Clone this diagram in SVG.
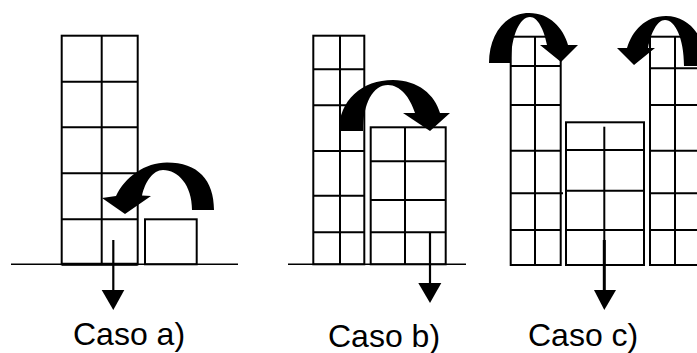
<svg xmlns="http://www.w3.org/2000/svg" width="697" height="353" viewBox="0 0 697 353">
<style>
.g{fill:none;stroke:#000;stroke-width:2}
.ground{fill:none;stroke:#000;stroke-width:1.6}
.shaft{fill:none;stroke:#000;stroke-width:2.2}
.head{fill:#000}
.curve{fill:#000;stroke:none}
.lbl{font-family:"Liberation Sans",Arial,sans-serif;font-size:32px;fill:#000}
</style>
<rect width="697" height="353" fill="#fff"/>
<g id="ground-a"><line class="ground" x1="11" y1="264.3" x2="238" y2="264.3"/></g>
<g id="ground-b"><line class="ground" x1="288" y1="264.3" x2="466" y2="264.3"/></g>
<g id="tower-a">
<rect class="g" x="61.7" y="35.7" width="76" height="228.6"/>
<line class="g" x1="101.7" y1="35.7" x2="101.7" y2="264.3"/>
<path class="g" d="M61.7 81.7H137.7M61.7 127.3H137.7M61.7 173.3H137.7M61.7 219.3H137.7"/>
<line x1="61.7" y1="264.3" x2="137.7" y2="264.3" stroke="#000" stroke-width="3"/>
</g>
<g id="block-a"><rect class="g" x="145" y="219.3" width="51.7" height="45"/></g>
<g id="tower-b1">
<rect class="g" x="313.3" y="35.7" width="51" height="228.6"/>
<line class="g" x1="340" y1="35.7" x2="340" y2="264.3"/>
<path class="g" d="M313.3 69.3H364.3M313.3 105.3H364.3M313.3 151H364.3M313.3 195.7H364.3M313.3 232.3H364.3"/>
</g>
<g id="tower-b2">
<rect class="g" x="370.7" y="127.3" width="75" height="137"/>
<line class="g" x1="405" y1="127.3" x2="405" y2="264.3"/>
<path class="g" d="M370.7 161.3H445.7M370.7 200H445.7M370.7 232.3H445.7"/>
</g>
<g id="tower-c1">
<rect class="g" x="510.7" y="36.7" width="50" height="228.3"/>
<line class="g" x1="535" y1="36.7" x2="535" y2="265"/>
<path class="g" d="M510.7 66H560.7M510.7 105H560.7M510.7 150.7H560.7M510.7 193.3H563M510.7 230H560.7"/>
</g>
<g id="tower-c2">
<rect class="g" x="566" y="122.3" width="78" height="142.7"/>
<line class="g" x1="604.3" y1="126.7" x2="604.3" y2="265"/>
<path class="g" d="M566 150H644M566 190.7H644M566 230H644"/>
</g>
<g id="tower-c3">
<rect class="g" x="650" y="36.7" width="52" height="228.3"/>
<line class="g" x1="675" y1="36.7" x2="675" y2="265"/>
<path class="g" d="M650 68.3H702M650 105H702M650 150.7H702M650 193.3H702M650 230H702"/>
</g>
<g id="connectors">
<path class="curve" d="M214 210C214 180 198 162.5 167 162.5C145 162.5 125 177 116 196L102 198L125 214L151 196L142 195.5C145 182 153 170 163 170C178 170 192 185 192 210Z"/>
<line class="shaft" x1="113.3" y1="240" x2="113.3" y2="292"/>
<path class="head" d="M101.7 290L124.3 290L113.3 310Z"/>
<path class="curve" d="M339 131C339 100 362 80 393 80C418 80 435 95 440 113L450 113L430 131L403 113L415 113C410 97 400 85 388 85C373 85 363 103 363 131Z"/>
<line class="shaft" x1="430" y1="233" x2="430" y2="285"/>
<path class="head" d="M418.3 283L441.3 283L430 303Z"/>
<path id="curve-c1" class="curve" d="M489 63C489 35 505 13 529 13C550 13 563 28 568 45L578 45L561 62L540 45L547 45C544 30 538 17 530 17C520 17 511 35 511 63Z"/>
<use href="#curve-c1" transform="translate(1195,3) scale(-1,1)"/>
<line x1="604.3" y1="240" x2="604.3" y2="292" stroke="#000" stroke-width="3"/>
<path class="head" d="M594 290L616 290L604.3 310Z"/>
</g>
<text class="lbl" x="73" y="344.5">Caso a)</text>
<text class="lbl" x="328" y="346.5">Caso b)</text>
<text class="lbl" x="528" y="346">Caso c)</text>
</svg>
